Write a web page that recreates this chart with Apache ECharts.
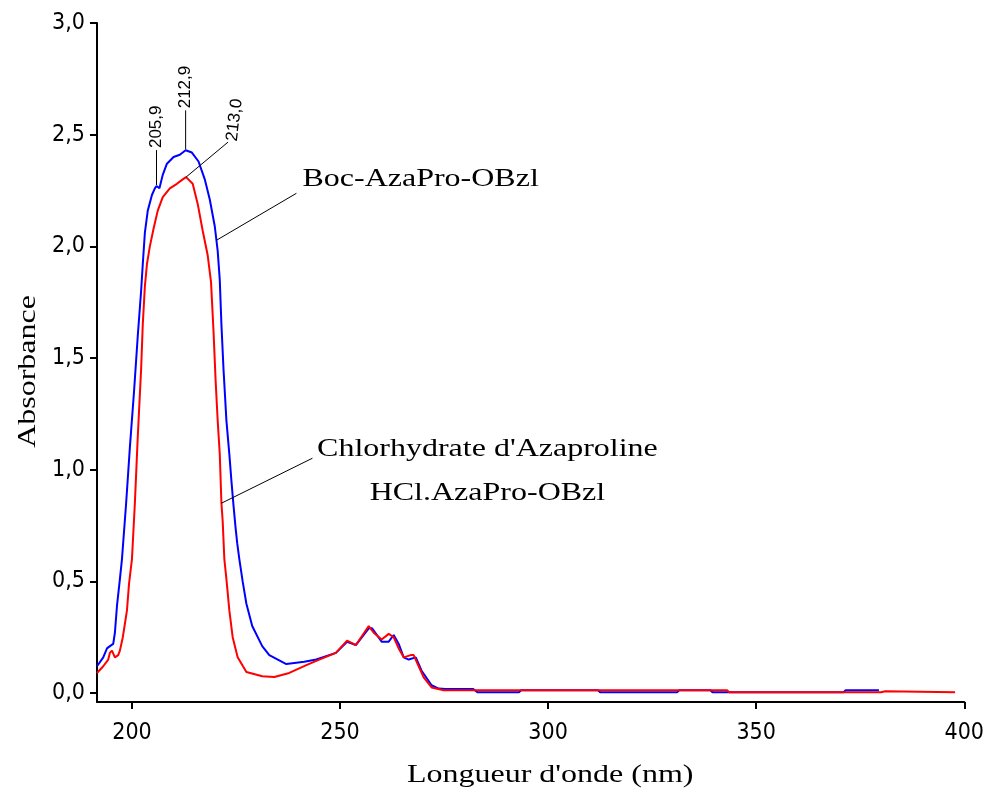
<!DOCTYPE html>
<html>
<head>
<meta charset="utf-8">
<script src="https://cdn.jsdelivr.net/npm/echarts@6/dist/echarts.min.js"></script>
<style>
  html, body { margin: 0; padding: 0; background: #ffffff; }
  #chart { width: 987px; height: 794px; }
</style>
</head>
<body>
<div id="chart"></div>
<script>
// UV spectra: wavelength (nm) and absorbance for each compound
const wavelengthBoc = [
  191.6, 193.1, 194.0, 194.7, 195.5, 195.9, 196.4, 197.1, 197.6, 198.6,
  199.5, 200.5, 201.4, 202.2, 202.6, 203.1, 203.8, 204.8, 205.5, 205.9,
  206.6, 207.4, 208.4, 210.0, 211.5, 212.9, 214.4, 216.0, 217.5, 218.7,
  219.9, 220.6, 221.1, 221.5, 222.0, 222.7, 223.4, 223.9, 224.4, 224.9,
  225.3, 225.8, 226.6, 227.5, 228.9, 231.3, 233.0, 237.1, 241.4, 244.3,
  249.0, 251.7, 253.8, 256.9, 257.7, 260.0, 261.7, 262.9, 264.1, 265.3,
  266.5, 268.2, 269.6, 272.0, 273.7, 275.4, 282.0, 283.0, 293.0, 293.5,
  312.0, 312.5, 331.0, 331.5, 339.0, 339.5, 371.0, 371.5, 379.5
];
const absorbanceBoc = [
  0.12, 0.16, 0.20, 0.21, 0.22, 0.27, 0.39, 0.51, 0.60, 0.85,
  1.10, 1.35, 1.60, 1.80, 1.92, 2.06, 2.16, 2.23, 2.26, 2.27,
  2.26, 2.32, 2.37, 2.40, 2.41, 2.43, 2.42, 2.38, 2.30, 2.21,
  2.09, 1.98, 1.85, 1.65, 1.45, 1.22, 1.07, 0.95, 0.84, 0.74,
  0.67, 0.60, 0.50, 0.40, 0.30, 0.21, 0.17, 0.13, 0.14, 0.15,
  0.18, 0.23, 0.215, 0.29, 0.29, 0.23, 0.23, 0.26, 0.22, 0.16,
  0.15, 0.16, 0.10, 0.035, 0.02, 0.018, 0.018, 0.004, 0.004, 0.013,
  0.013, 0.004, 0.004, 0.013, 0.013, 0.004, 0.004, 0.013, 0.013
];

const wavelengthHcl = [
  191.6, 193.1, 194.3, 194.7, 195.2, 195.9, 196.7, 197.1, 197.8, 198.8,
  199.3, 200.0, 200.7, 201.4, 202.2, 202.6, 203.1, 203.6, 204.3, 205.2,
  206.2, 207.4, 209.1, 210.8, 212.2, 213.0, 214.6, 215.8, 217.0, 218.2,
  219.0, 219.6, 220.1, 220.6, 221.1, 221.5, 221.8, 222.2, 222.7, 223.4,
  224.2, 225.4, 227.5, 231.3, 234.2, 237.8, 241.9, 245.0, 249.0, 251.7,
  253.8, 256.9, 258.1, 260.0, 261.7, 262.9, 264.1, 265.3, 267.0, 267.7,
  268.9, 270.1, 272.0, 274.9, 343.0, 343.5, 380.0, 380.3, 381.0, 381.3,
  397.8
];
const absorbanceHcl = [
  0.09, 0.12, 0.15, 0.18, 0.19, 0.16, 0.17, 0.19, 0.25, 0.37,
  0.49, 0.60, 0.85, 1.15, 1.45, 1.65, 1.82, 1.92, 2.00, 2.08,
  2.16, 2.22, 2.26, 2.28, 2.30, 2.31, 2.28, 2.19, 2.07, 1.96,
  1.84, 1.62, 1.40, 1.22, 1.07, 0.85, 0.77, 0.60, 0.51, 0.37,
  0.25, 0.16, 0.094, 0.075, 0.072, 0.09, 0.125, 0.15, 0.18, 0.235,
  0.215, 0.30, 0.27, 0.24, 0.265, 0.25, 0.20, 0.16, 0.17, 0.17,
  0.12, 0.07, 0.025, 0.013, 0.013, 0.004, 0.004, 0.008, 0.008, 0.004,
  0.004
];

const xTickValues = [200, 250, 300, 350, 400];
const yTickValues = [0, 0.5, 1.0, 1.5, 2.0, 2.5, 3.0];

const seriesNames = ['Boc-AzaPro-OBzl', 'HCl.AzaPro-OBzl'];
const xAxisTitle = "Longueur d'onde (nm)";
const yAxisTitle = 'Absorbance';

// Peak maxima marked on the curves (series index, wavelength, label)
const peakSeries = [0, 0, 1];
const peakWavelengths = [205.9, 212.9, 213.0];
const peakTexts = ['205,9', '212,9', '213,0'];

// Compound captions with their leader anchor on a curve
const captionBoc = ['Boc-AzaPro-OBzl'];
const captionHcl = ["Chlorhydrate d'Azaproline", 'HCl.AzaPro-OBzl'];
const anchorBocWavelength = 220.3;
const anchorHclWavelength = 221.5;

const spectra = [
  { x: wavelengthBoc, y: absorbanceBoc },
  { x: wavelengthHcl, y: absorbanceHcl }
];

function pairs(xs, ys) {
  return xs.map((v, i) => [v, ys[i]]);
}

// Absorbance on a spectrum at a given wavelength (linear between samples)
function valueAt(s, wl) {
  const xs = s.x, ys = s.y;
  for (let i = 0; i < xs.length - 1; i++) {
    if (wl >= xs[i] && wl <= xs[i + 1]) {
      const t = (wl - xs[i]) / (xs[i + 1] - xs[i]);
      return ys[i] + t * (ys[i + 1] - ys[i]);
    }
  }
  return ys[ys.length - 1];
}

const commaFmt = v => v.toFixed(1).replace('.', ',');
const serif = '"Liberation Serif", "Times New Roman", serif';
const sans = '"Liberation Sans", Arial, sans-serif';
const narrow = '"Liberation Sans Narrow", "DejaVu Sans Condensed", "Liberation Sans", sans-serif';
const serifStretch = 1.28;   // the serif captions are set wide

const chart = echarts.init(document.getElementById('chart'), null, { renderer: 'canvas' });

chart.setOption({
  backgroundColor: '#ffffff',
  animation: false,
  grid: { left: 97, right: 19, top: 23, bottom: 92 },
  xAxis: {
    type: 'value',
    min: 191.6,
    max: 400,
    axisLine: { show: true, onZero: false, lineStyle: { color: '#000', width: 2 } },
    axisTick: { show: true, length: 7, lineStyle: { color: '#000', width: 2 }, customValues: xTickValues },
    axisLabel: { color: '#000', fontFamily: narrow, fontSize: 23, margin: 20, customValues: xTickValues },
    splitLine: { show: false }
  },
  yAxis: {
    type: 'value',
    min: -0.04,
    max: 3.0,
    axisLine: { show: true, onZero: false, lineStyle: { color: '#000', width: 2 } },
    axisTick: { show: true, length: 7, lineStyle: { color: '#000', width: 2 }, customValues: yTickValues },
    axisLabel: { color: '#000', fontFamily: narrow, fontSize: 23, margin: 12, formatter: commaFmt, customValues: yTickValues },
    splitLine: { show: false }
  },
  series: [
    {
      name: seriesNames[0],
      type: 'line',
      data: pairs(wavelengthBoc, absorbanceBoc),
      showSymbol: false,
      lineStyle: { color: '#0000ff', width: 2 },
      z: 2
    },
    {
      name: seriesNames[1],
      type: 'line',
      data: pairs(wavelengthHcl, absorbanceHcl),
      showSymbol: false,
      lineStyle: { color: '#ff0000', width: 2 },
      z: 3
    }
  ]
});

// Annotations placed from data coordinates
const toPx = (x, y) => chart.convertToPixel({ gridIndex: 0 }, [x, y]);
const elements = [];
const leader = (x1, y1, x2, y2) => ({
  type: 'line',
  shape: { x1, y1, x2, y2 },
  style: { stroke: '#000', lineWidth: 1 },
  z: 10
});
const vText = (x, y, text, rot) => ({
  type: 'text',
  x, y,
  rotation: rot,
  style: { text, fill: '#000', font: '17px ' + sans, align: 'left', verticalAlign: 'middle' },
  z: 10
});
const serifText = (x, y, text, align, rot) => ({
  type: 'text',
  x, y,
  rotation: rot || 0,
  scaleX: serifStretch,
  style: { text, fill: '#000', font: '25px ' + serif, align, verticalAlign: 'middle' },
  z: 10
});

// Axis titles
{
  const bottomMid = toPx(300.5, -0.04);
  elements.push(serifText(bottomMid[0], bottomMid[1] + 73, xAxisTitle, 'center'));
  const leftMid = toPx(191.6, 1.44);
  elements.push(serifText(leftMid[0] - 69, leftMid[1], yAxisTitle, 'center', Math.PI / 2));
}

// Peak markers: 205,9 and 212,9 straight up, 213,0 with an oblique leader
const peakRise = [36, 40, 0];
peakWavelengths.forEach((wl, i) => {
  const s = spectra[peakSeries[i]];
  const p = toPx(wl, valueAt(s, wl));
  if (peakRise[i] > 0) {
    elements.push(leader(p[0], p[1] - 1, p[0], p[1] - peakRise[i]));
    elements.push(vText(p[0], p[1] - peakRise[i] - 2, peakTexts[i], Math.PI / 2));
  } else {
    const ex = p[0] + 42, ey = p[1] - 35;
    elements.push(leader(p[0], p[1], ex, ey));
    elements.push(vText(ex + 4, ey - 1, peakTexts[i], 1.45));
  }
});

// Caption for the Boc compound
{
  const p = toPx(anchorBocWavelength, valueAt(spectra[0], anchorBocWavelength));
  const ex = p[0] + 80, ey = p[1] - 47;
  elements.push(leader(p[0], p[1], ex, ey));
  elements.push(serifText(ex + 6, ey - 14, captionBoc[0], 'left'));
}

// Caption for the hydrochloride
{
  const p = toPx(anchorHclWavelength, valueAt(spectra[1], anchorHclWavelength));
  const ex = p[0] + 91, ey = p[1] - 45;
  elements.push(leader(p[0], p[1], ex, ey));
  elements.push(serifText(ex + 175, ey - 9, captionHcl[0], 'center'));
  elements.push(serifText(ex + 175, ey + 35, captionHcl[1], 'center'));
}

chart.setOption({ graphic: { elements } });
</script>
</body>
</html>
